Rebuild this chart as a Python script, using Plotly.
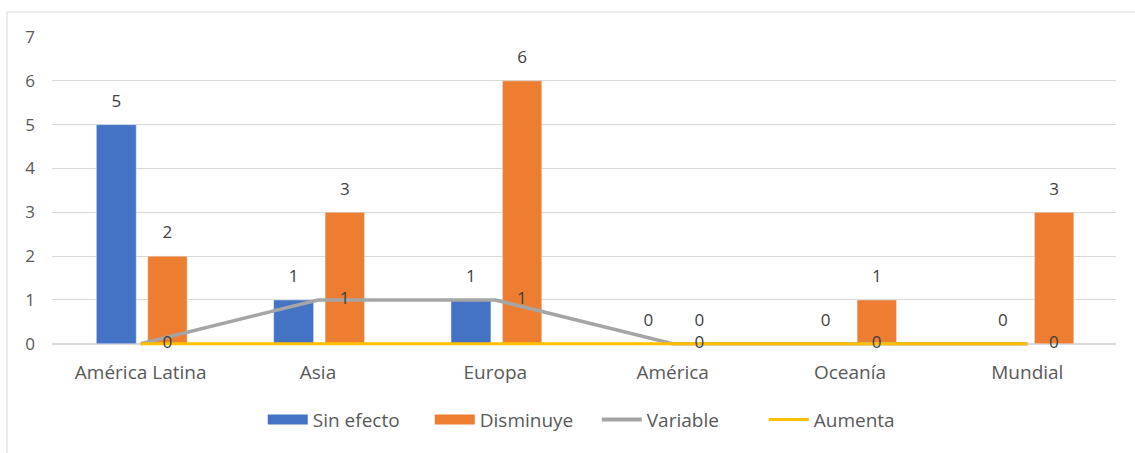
import numpy as np
import plotly.graph_objects as go

categories = ["América Latina", "Asia", "Europa", "América", "Oceanía", "Mundial"]
sin_efecto = [5, 1, 1, 0, 0, 0]
disminuye = [2, 3, 6, 0, 1, 3]
variable = [0, 1, 1, 0, 0, 0]
aumenta = [0, 0, 0, 0, 0, 0]

C_BLUE = "#4472C4"
C_ORANGE = "#ED7D31"
C_GRAY = "#A5A5A5"
C_YELLOW = "#FFC000"
FONT = "Open Sans"
LBL = dict(color="#404040", size=17, family=FONT)

x = np.arange(len(categories))
W_BLUE, OFF_BLUE = 0.225, -0.25
W_OR, OFF_OR = 0.222, 0.04
LABEL_LIFT = 0.5   # data-label distance above bar top, in axis units

fig = go.Figure()

fig.add_trace(go.Bar(
    x=x, y=sin_efecto, name="Sin efecto", marker_color=C_BLUE,
    width=W_BLUE, offset=OFF_BLUE, showlegend=False,
))
fig.add_trace(go.Bar(
    x=x, y=disminuye, name="Disminuye", marker_color=C_ORANGE,
    width=W_OR, offset=OFF_OR, showlegend=False,
))
fig.add_trace(go.Scatter(
    x=x, y=variable, name="Variable", mode="lines",
    line=dict(color=C_GRAY, width=3.5), showlegend=False,
))
fig.add_trace(go.Scatter(
    x=x, y=aumenta, name="Aumenta", mode="lines",
    line=dict(color=C_YELLOW, width=3), showlegend=False,
))

# bar data labels
fig.add_trace(go.Scatter(
    x=x + OFF_BLUE + W_BLUE / 2, y=np.array(sin_efecto) + LABEL_LIFT,
    mode="text", text=[str(v) for v in sin_efecto], textposition="middle center",
    textfont=LBL, showlegend=False, hoverinfo="skip", cliponaxis=False,
))
fig.add_trace(go.Scatter(
    x=x + OFF_OR + W_OR / 2, y=np.array(disminuye) + LABEL_LIFT,
    mode="text", text=[str(v) for v in disminuye], textposition="middle center",
    textfont=LBL, showlegend=False, hoverinfo="skip", cliponaxis=False,
))
# data labels of the Variable series, to the right of each point
fig.add_trace(go.Scatter(
    x=x + 0.15, y=variable, mode="text", text=[str(v) for v in variable],
    textposition="middle center",
    textfont=LBL, showlegend=False, hoverinfo="skip", cliponaxis=False,
))

# legend entries
for name, col, w in [("Sin efecto", C_BLUE, 12), ("Disminuye", C_ORANGE, 12),
                     ("Variable", C_GRAY, 4), ("Aumenta", C_YELLOW, 3)]:
    fig.add_trace(go.Scatter(
        x=[None], y=[None], mode="lines", name=name,
        line=dict(color=col, width=w), showlegend=True,
    ))

fig.update_layout(
    width=1135, height=453,
    margin=dict(l=52, r=19, t=37, b=107),
    plot_bgcolor="white", paper_bgcolor="white",
    barmode="overlay",
    font=dict(family=FONT, color="#595959", size=17),
    legend=dict(
        orientation="h", x=0.512, xanchor="center", y=-0.177, yanchor="top",
        font=dict(size=19, color="#595959"), itemwidth=40,
        entrywidth=112, traceorder="normal",
    ),
    xaxis=dict(
        range=[-0.5, 5.5], tickvals=x, ticktext=categories,
        showgrid=False, zeroline=False, showline=False, ticks="",
        tickfont=dict(size=19, color="#595959"), ticklabelstandoff=13,
    ),
    yaxis=dict(
        range=[-0.05, 7], tickvals=list(range(8)), showgrid=True,
        gridcolor="#D9D9D9", gridwidth=1,
        zeroline=True, zerolinecolor="#D9D9D9", showline=False, ticks="",
        tickfont=dict(size=17, color="#595959"), ticklabelstandoff=16,
    ),
    shapes=[
        dict(type="line", xref="paper", yref="paper",
             x0=-0.0423, x1=1.05, y0=1.081, y1=1.081,
             line=dict(color="#D9D9D9", width=1), layer="below"),
        dict(type="line", xref="paper", yref="paper",
             x0=-0.0423, x1=-0.0423, y0=-0.36, y1=1.081,
             line=dict(color="#D9D9D9", width=1), layer="below"),
    ],
)

fig.write_html("out.html")
